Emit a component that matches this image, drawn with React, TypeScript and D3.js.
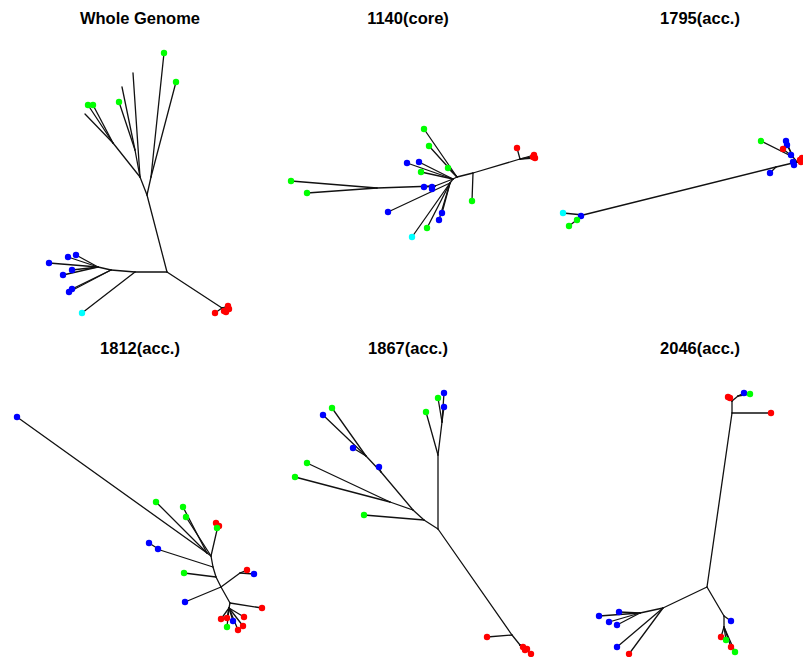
import React from "react";
import * as d3 from "d3";

// Panel titles, in reading order
const titles = ["Whole Genome", "1140(core)", "1795(acc.)", "1812(acc.)", "1867(acc.)", "2046(acc.)"];

// Tree nodes: [id, parent, x, y, group] in unrooted-layout units.
// group: g = green, b = blue, r = red, c = cyan, "" = internal node / unlabelled tip
type Row = [string, string | null, number, number, string];

const wholeGenomeTree: Row[] = [
  ["A", null, 167, 272, ""],
  ["R1", "A", 222, 308, ""],
  ["r1", "R1", 215, 313, "r"],
  ["r2", "R1", 226, 312, "r"],
  ["r3", "R1", 229, 309, "r"],
  ["r4", "R1", 228, 306, "r"],
  ["r5", "R1", 224, 311, "r"],
  ["B", "A", 147, 195, ""],
  ["C", "B", 151, 177, ""],
  ["g1", "C", 164, 53, "g"],
  ["g2", "C", 176, 82, "g"],
  ["D", "B", 140, 177, ""],
  ["t1", "D", 133, 73, ""],
  ["E", "D", 135, 150, ""],
  ["t2", "E", 122, 87, ""],
  ["g3", "E", 119, 102, "g"],
  ["F", "D", 113, 143, ""],
  ["g4", "F", 88, 105, "g"],
  ["g5", "F", 93, 105, "g"],
  ["t3", "F", 85, 114, ""],
  ["G", "A", 135, 272, ""],
  ["c1", "G", 82, 313, "c"],
  ["H", "G", 111, 270, ""],
  ["I", "H", 98, 267, ""],
  ["b1", "I", 49, 263, "b"],
  ["b2", "I", 68, 257, "b"],
  ["b3", "I", 76, 255, "b"],
  ["b4", "I", 63, 275, "b"],
  ["b5", "I", 72, 270, "b"],
  ["b6", "H", 69, 292, "b"],
  ["b7", "H", 72, 289, "b"],
];

const core1140Tree: Row[] = [
  ["N0", null, 185, 179, ""],
  ["N1", "N0", 189, 177, ""],
  ["N2", "N1", 205, 173, ""],
  ["g1", "N2", 204, 201, "g"],
  ["N3", "N2", 252, 159, ""],
  ["r1", "N3", 249, 148, "r"],
  ["r2", "N3", 265, 157, "r"],
  ["r3", "N3", 267, 158, "r"],
  ["r4", "N3", 266, 155, "r"],
  ["N4", "N0", 167, 186, ""],
  ["b1", "N4", 156, 187, "b"],
  ["b2", "N4", 164, 189, "b"],
  ["b3", "N4", 164, 187, "b"],
  ["N5", "N4", 109, 188, ""],
  ["g2", "N5", 23, 181, "g"],
  ["g3", "N5", 39, 193, "g"],
  ["g4", "N1", 156, 129, "g"],
  ["g5", "N1", 161, 146, "g"],
  ["g6", "N1", 180, 168, "g"],
  ["b4", "N0", 139, 163, "b"],
  ["b5", "N0", 151, 162, "b"],
  ["g7", "N0", 153, 172, "g"],
  ["N6", "N0", 182, 183, ""],
  ["b6", "N6", 120, 212, "b"],
  ["b7", "N6", 174, 213, "b"],
  ["b8", "N6", 171, 220, "b"],
  ["g8", "N6", 159, 228, "g"],
  ["c1", "N6", 144, 237, "c"],
];

const acc1795Tree: Row[] = [
  ["R", null, 261, 162, ""],
  ["M", "R", 240, 167, ""],
  ["b1", "M", 234, 173, "b"],
  ["L", "M", 47, 215, ""],
  ["c1", "L", 27, 213, "c"],
  ["b2", "L", 45, 216, "b"],
  ["g1", "L", 41, 220, "g"],
  ["g2", "L", 33, 226, "g"],
  ["Q", "R", 257, 157, ""],
  ["g3", "Q", 225, 141, "g"],
  ["b3", "Q", 250, 141, "b"],
  ["b4", "Q", 251, 145, "b"],
  ["r1", "Q", 247, 149, "r"],
  ["b5", "Q", 255, 155, "b"],
  ["b6", "R", 257, 162, "b"],
  ["b7", "R", 258, 165, "b"],
  ["r2", "R", 264, 160, "r"],
  ["r3", "R", 266, 158, "r"],
  ["r4", "R", 265, 162, "r"],
];

const acc1812Tree: Row[] = [
  ["S6", null, 230, 273, ""],
  ["S5", "S6", 221, 257, ""],
  ["S4", "S5", 216, 247, ""],
  ["S3", "S4", 213, 237, ""],
  ["S2", "S3", 211, 226, ""],
  ["S1", "S2", 207, 223, ""],
  ["b1", "S1", 17, 87, "b"],
  ["g1", "S1", 156, 172, "g"],
  ["g2", "S1", 183, 177, "g"],
  ["g3", "S2", 186, 187, "g"],
  ["T", "S2", 217, 200, ""],
  ["r1", "T", 216, 193, "r"],
  ["r2", "T", 219, 196, "r"],
  ["g4", "T", 217, 198, "g"],
  ["U", "S3", 160, 220, ""],
  ["b2", "U", 149, 213, "b"],
  ["b3", "U", 158, 219, "b"],
  ["g5", "S4", 184, 243, "g"],
  ["V", "S5", 240, 243, ""],
  ["r3", "V", 247, 240, "r"],
  ["b4", "V", 254, 244, "b"],
  ["b5", "S5", 185, 272, "b"],
  ["r4", "S6", 262, 278, "r"],
  ["W", "S6", 229, 278, ""],
  ["r5", "W", 221, 289, "r"],
  ["r6", "W", 227, 288, "r"],
  ["b6", "W", 233, 291, "b"],
  ["r7", "W", 244, 287, "r"],
  ["g6", "W", 227, 297, "g"],
  ["r8", "W", 243, 296, "r"],
  ["r9", "W", 238, 300, "r"],
];

const acc1867Tree: Row[] = [
  ["C0", null, 170, 199, ""],
  ["D1", "C0", 244, 305, ""],
  ["r1", "D1", 219, 307, "r"],
  ["D2", "D1", 252, 315, ""],
  ["r2", "D2", 255, 317, "r"],
  ["r3", "D2", 259, 319, "r"],
  ["r4", "D2", 263, 324, "r"],
  ["r5", "D2", 257, 320, "r"],
  ["U1", "C0", 170, 125, ""],
  ["g1", "U1", 158, 82, "g"],
  ["U2", "U1", 174, 92, ""],
  ["g2", "U2", 170, 68, "g"],
  ["b1", "U2", 176, 63, "b"],
  ["b2", "U2", 176, 77, "b"],
  ["L1", "C0", 156, 190, ""],
  ["g3", "L1", 96, 185, "g"],
  ["L2", "L1", 145, 180, ""],
  ["L3", "L2", 122, 172, ""],
  ["g4", "L3", 39, 133, "g"],
  ["g5", "L3", 27, 147, "g"],
  ["L4", "L2", 113, 142, ""],
  ["b3", "L4", 111, 137, "b"],
  ["L5", "L4", 98, 126, ""],
  ["g6", "L5", 64, 78, "g"],
  ["b4", "L5", 55, 85, "b"],
  ["b5", "L5", 85, 118, "b"],
];

const acc2046Tree: Row[] = [
  ["C0", null, 171, 257, ""],
  ["P1", "C0", 196, 83, ""],
  ["r1", "P1", 235, 83, "r"],
  ["P2", "P1", 196, 71, ""],
  ["r2", "P2", 192, 67, "r"],
  ["r3", "P2", 194, 68, "r"],
  ["P3", "P2", 202, 66, ""],
  ["b1", "P3", 208, 63, "b"],
  ["g1", "P3", 214, 64, "g"],
  ["Q1", "C0", 127, 278, ""],
  ["Q2", "Q1", 104, 283, ""],
  ["b2", "Q2", 63, 286, "b"],
  ["b3", "Q2", 83, 282, "b"],
  ["b4", "Q2", 73, 292, "b"],
  ["b5", "Q2", 81, 295, "b"],
  ["b6", "Q1", 81, 317, "b"],
  ["r4", "Q1", 93, 324, "r"],
  ["R1", "C0", 188, 286, ""],
  ["b7", "R1", 195, 291, "b"],
  ["R2", "R1", 188, 297, ""],
  ["r5", "R2", 185, 307, "r"],
  ["g2", "R2", 190, 310, "g"],
  ["r6", "R2", 195, 317, "r"],
  ["g3", "R2", 199, 322, "g"],
];

const trees: Row[][] = [wholeGenomeTree, core1140Tree, acc1795Tree, acc1812Tree, acc1867Tree, acc2046Tree];

const groupColor: Record<string, string> = {
  g: "#00ff00",
  b: "#0000ff",
  r: "#ff0000",
  c: "#00ffff",
};

const WIDTH = 803;
const HEIGHT = 657;
const PANEL_W = 268;
const PANEL_H = 330;
const titleX = [140, 140, 164];
const titleY = 24;

function TreePanel({ rows, title, index }: { rows: Row[]; title: string; index: number }) {
  const col = index % 3;
  const row = Math.floor(index / 3);
  const x = d3.scaleLinear().domain([0, PANEL_W]).range([col * PANEL_W, col * PANEL_W + PANEL_W]);
  const y = d3.scaleLinear().domain([0, PANEL_H]).range([row * PANEL_H, row * PANEL_H + PANEL_H]);
  const byId = new Map(rows.map((r) => [r[0], r]));
  const edges = rows.filter((r) => r[1] !== null).map((r) => ({ child: r, parent: byId.get(r[1] as string)! }));
  const tips = rows.filter((r) => r[4] !== "");
  return (
    <g>
      <text
        x={x(titleX[col])}
        y={y(titleY)}
        textAnchor="middle"
        fontFamily="'Liberation Sans', Arial, sans-serif"
        fontWeight="bold"
        fontSize={16.5}
        fill="#000"
      >
        {title}
      </text>
      <g stroke="#111" strokeWidth={1.3} strokeLinecap="round">
        {edges.map((e, i) => (
          <line key={i} x1={x(e.parent[2])} y1={y(e.parent[3])} x2={x(e.child[2])} y2={y(e.child[3])} />
        ))}
      </g>
      <g>
        {tips.map((t, i) => (
          <circle key={i} cx={x(t[2])} cy={y(t[3])} r={3.2} fill={groupColor[t[4]]} />
        ))}
      </g>
    </g>
  );
}

export default function App() {
  return (
    <svg
      width={WIDTH}
      height={HEIGHT}
      style={{ position: "absolute", left: 0, top: 0, background: "#fff" }}
    >
      {trees.map((rows, i) => (
        <TreePanel key={i} rows={rows} title={titles[i]} index={i} />
      ))}
    </svg>
  );
}
